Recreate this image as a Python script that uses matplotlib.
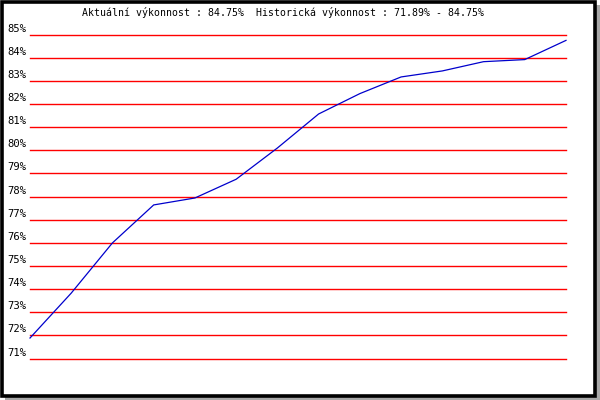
import matplotlib
matplotlib.use('Agg')
import matplotlib.pyplot as plt
import matplotlib.transforms as mtransforms
from matplotlib.patches import Rectangle

# performance history (percent)
values = [71.89, 73.83, 76.0, 77.64, 77.94, 78.75, 80.1, 81.57, 82.45,
          83.17, 83.43, 83.83, 83.92, 84.75]
levels = list(range(71, 86))
level_labels = ['%d%%' % v for v in levels]
title = 'Aktuální výkonnost : 84.75%  Historická výkonnost : 71.89% - 84.75%'

fig = plt.figure(figsize=(6, 4), dpi=100)
fig.patch.set_facecolor('white')

# shadow and black frame
fig.patches.append(Rectangle((5 / 600, 0), 595 / 600, 395 / 400, transform=fig.transFigure,
                             facecolor='#a8a8a8', edgecolor='none', zorder=-3))
fig.patches.append(Rectangle((1.5 / 600, 4.5 / 400), 593 / 600, 394 / 400, transform=fig.transFigure,
                             facecolor='white', edgecolor='black', linewidth=2.6, zorder=-2))

ax = fig.add_axes([30 / 600, 41.4 / 400, 536 / 600, 324 / 400])
ax.set_facecolor('none')
ax.set_xlim(0, len(values) - 1)
ax.set_ylim(71, 85)
for s in ax.spines.values():
    s.set_visible(False)
ax.set_xticks([])
ax.set_yticks([])

for lv in levels:
    ax.axhline(lv, color='red', linewidth=1.0, clip_on=False)

ax.plot(range(len(values)), values, color='#0000cc', linewidth=0.9, zorder=3, clip_on=False)

trans = mtransforms.offset_copy(ax.get_yaxis_transform(), fig=fig, x=-4, y=6, units='dots')
for lv, lab in zip(levels, level_labels):
    ax.text(0, lv, lab, transform=trans, ha='right', va='center',
            family='DejaVu Sans Mono', fontsize=7.6, color='black')

fig.text(283 / 600, 1 - 13 / 400, title, ha='center', va='center',
         family='DejaVu Sans Mono', fontsize=7.1, color='black')

fig.savefig('out.png', dpi=100)
